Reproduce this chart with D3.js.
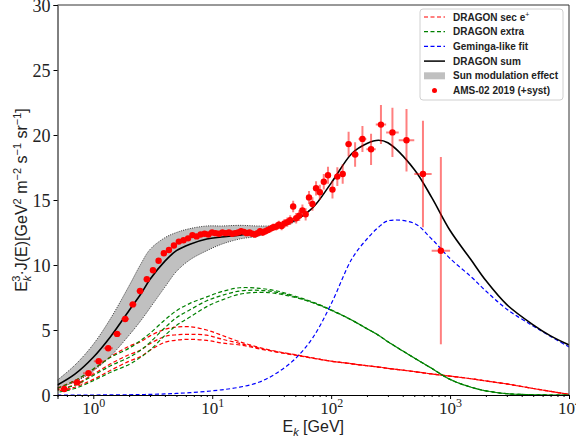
<!DOCTYPE html>
<html>
<head>
<meta charset="utf-8">
<script src="https://cdn.jsdelivr.net/npm/d3@7"></script>
<style>
  body { margin: 0; background: #fff; }
  #chart svg { display: block; }
</style>
</head>
<body>
<div id="chart"></div>
<script>
/* Positron flux E^3 J(E): DRAGON model curves vs AMS-02 2019 data. */

// energies [GeV] where the model curves are sampled
const energyGrid = [0.5, 0.7, 1, 1.4, 2, 2.5, 3, 4, 5, 6.5, 9, 12, 17, 25, 35, 50, 70, 100,
                    150, 200, 250, 300, 500, 700, 1000, 1500, 2000, 3000, 5000, 7000, 10000];

// DRAGON secondary e+ (three modulation potentials)
const secHigh = [0.55, 1.1, 1.95, 2.95, 3.75, 4.1, 4.55, 5.05, 5.22, 5.25, 5.0, 4.6, 4.1, 3.65, 3.35, 3.1,
                 2.85, 2.6, 2.4, 2.25, 2.15, 2.05, 1.8, 1.62, 1.45, 1.25, 1.08, 0.85, 0.5, 0.28, 0.05];
const secMid  = [0.4, 0.8, 1.6, 2.4, 3.1, 3.45, 3.95, 4.5, 4.63, 4.67, 4.6, 4.3, 3.97, 3.6, 3.32, 3.08,
                 2.84, 2.6, 2.4, 2.25, 2.15, 2.05, 1.8, 1.62, 1.45, 1.25, 1.08, 0.85, 0.5, 0.28, 0.05];
const secLow  = [0.3, 0.6, 1.2, 1.9, 2.6, 2.95, 3.45, 4.05, 4.22, 4.28, 4.2, 4.0, 3.85, 3.55, 3.3, 3.06,
                 2.83, 2.6, 2.4, 2.25, 2.15, 2.05, 1.8, 1.62, 1.45, 1.25, 1.08, 0.85, 0.5, 0.28, 0.05];

// DRAGON extra component
const extraHigh = [0.5, 1.1, 2.0, 2.9, 3.6, 4.2, 4.75, 5.78, 6.48, 7.05, 7.55, 7.95, 8.25, 8.2, 8.0, 7.6,
                   7.15, 6.55, 5.75, 5.1, 4.6, 4.1, 2.85, 2.05, 1.2, 0.6, 0.32, 0.1, 0.02, 0, 0];
const extraMid  = [0.38, 0.75, 1.5, 2.25, 2.9, 3.45, 4.05, 5.18, 5.95, 6.55, 7.25, 7.65, 8.0, 8.05, 7.9, 7.55,
                   7.12, 6.53, 5.75, 5.1, 4.6, 4.1, 2.85, 2.05, 1.2, 0.6, 0.32, 0.1, 0.02, 0, 0];
const extraLow  = [0.2, 0.5, 1.1, 1.75, 2.35, 2.9, 3.45, 4.58, 5.35, 6.0, 6.8, 7.3, 7.75, 7.9, 7.8, 7.5,
                   7.1, 6.52, 5.75, 5.1, 4.6, 4.1, 2.85, 2.05, 1.2, 0.6, 0.32, 0.1, 0.02, 0, 0];

// Geminga-like pulsar fit
const gemingaFit = [0, 0, 0, 0.01, 0.02, 0.03, 0.05, 0.08, 0.12, 0.18, 0.28, 0.4, 0.6, 1.0, 1.7, 2.8,
                    4.4, 7.0, 10.5, 12.0, 12.9, 13.4, 13.2, 12.0, 10.5, 9.1, 8.0, 6.6, 5.3, 4.5, 3.7];

// DRAGON sum
const dragonSum = [0.77, 1.6, 2.9, 4.5, 6.5, 7.75, 8.9, 10.3, 11.1, 11.6, 12.0, 12.15, 12.3, 12.55, 12.95, 13.45,
                   14.4, 16.3, 18.6, 19.35, 19.6, 19.4, 17.35, 15.2, 12.65, 10.4, 8.8, 6.95, 5.4, 4.55, 3.85];

// sun modulation band (first 17 grid energies, up to 70 GeV)
const sunUpper = [1.15, 2.3, 3.9, 5.9, 8.4, 10.05, 11.2, 12.1, 12.5, 12.8, 13.0, 13.0, 13.05, 13.0, 13.05, 13.45, 14.4];
const sunLower = [0.55, 1.0, 1.85, 3.0, 4.6, 5.7, 6.7, 8.3, 9.5, 10.4, 11.1, 11.6, 12.0, 12.25, 12.8, 13.35, 14.4];

// AMS-02 2019 positrons: bin edges [GeV], E^3 J values and errors
const amsBinEdges = [0.50, 0.65, 0.82, 1.01, 1.22, 1.46, 1.72, 2.00, 2.31, 2.65, 3.00, 3.36, 3.73, 4.12, 4.54,
                     5.00, 5.49, 6.00, 6.54, 7.10, 7.69, 8.30, 8.95, 9.62, 10.32, 11.04, 11.80, 12.59, 13.41,
                     14.25, 15.14, 16.05, 17.00, 17.98, 18.99, 20.04, 21.13, 22.25, 23.42, 24.62, 25.90, 27.25,
                     28.68, 30.21, 31.82, 33.53, 35.36, 37.31, 39.39, 41.61, 44.00, 46.57, 49.33, 52.33, 55.58,
                     59.13, 63.02, 67.30, 72.05, 77.37, 83.36, 90.19, 98.08, 107.3, 118.4, 132.1, 148.8, 169.9,
                     197.7, 237.2, 290.0, 370.0, 500.0, 700.0, 1000.0];
const amsValues = [0.46, 0.97, 1.67, 2.6, 3.6, 4.7, 5.85, 6.97, 8.0, 8.9,
                   9.6, 10.33, 10.9, 11.15, 11.5, 11.8, 11.9, 12.05, 12.3, 12.2,
                   12.35, 12.4, 12.35, 12.5, 12.45, 12.4, 12.5, 12.45, 12.5, 12.4,
                   12.45, 12.5, 12.6, 12.55, 12.45, 12.5, 12.4, 12.35, 12.45, 12.6,
                   12.5, 12.6, 12.7, 12.8, 12.9, 12.95, 13.1, 13.0, 13.2, 13.3,
                   13.45, 14.5, 13.6, 13.8, 14.2, 13.9, 15.2, 14.7, 15.9, 15.6,
                   16.4, 16.9, 15.8, 16.8, 17.0, 19.3, 18.5, 19.7, 18.9, 20.8,
                   20.2, 19.6, 17.0, 11.1];
const amsErrors = [0.03, 0.04, 0.05, 0.06, 0.07, 0.08, 0.09, 0.1, 0.1, 0.11,
                   0.12, 0.12, 0.13, 0.13, 0.13, 0.14, 0.14, 0.14, 0.15, 0.15,
                   0.15, 0.15, 0.16, 0.16, 0.16, 0.17, 0.17, 0.17, 0.18, 0.18,
                   0.19, 0.19, 0.2, 0.2, 0.21, 0.21, 0.22, 0.23, 0.23, 0.24,
                   0.25, 0.26, 0.27, 0.28, 0.29, 0.3, 0.31, 0.32, 0.33, 0.35,
                   0.37, 0.45, 0.4, 0.42, 0.45, 0.47, 0.5, 0.52, 0.55, 0.58,
                   0.6, 0.65, 0.68, 0.72, 0.75, 0.95, 0.95, 1.0, 1.2, 1.5,
                   1.9, 2.4, 4.1, 7.2];

const xTicks = [1, 10, 100, 1000, 10000];
const yTicks = [0, 5, 10, 15, 20, 25, 30];

const width = 576,
      height = 443,
      margin = ({top: 5, right: 7, bottom: 48, left: 57.5});

const serif = "'Liberation Serif', 'DejaVu Serif', serif";
const sans = "'Liberation Sans', 'DejaVu Sans', sans-serif";

let svg = d3.select("#chart")
            .append("svg")
            .attr("width", width)
            .attr("height", height)
            .attr("viewBox", [0, 0, width, height]);

const x = d3.scaleLog()
            .domain([0.5, 1e4])
            .range([margin.left, width - margin.right]);

const y = d3.scaleLinear()
            .domain([0, 30])
            .range([height - margin.bottom, margin.top]);

svg.append("clipPath").attr("id", "plot-clip")
   .append("rect")
   .attr("x", margin.left).attr("y", margin.top)
   .attr("width", width - margin.left - margin.right)
   .attr("height", height - margin.top - margin.bottom);

const plot = svg.append("g").attr("clip-path", "url(#plot-clip)");

const smooth = d3.curveCatmullRom.alpha(0.5);

// sun modulation band
const bandData = sunUpper.map((u, i) => ({e: energyGrid[i], hi: u, lo: sunLower[i]}));
plot.append("path")
    .datum(bandData)
    .attr("fill", "#c0c0c0")
    .attr("d", d3.area().curve(smooth)
                 .x(d => x(d.e)).y0(d => y(d.lo)).y1(d => y(d.hi)));

const line = d3.line().curve(smooth)
               .x(d => x(d[0])).y(d => y(d[1]));
const pairs = arr => arr.map((v, i) => [energyGrid[i], v]);

for (const edge of [sunUpper, sunLower]) {
    plot.append("path")
        .datum(pairs(edge))
        .attr("fill", "none")
        .attr("stroke", "#222")
        .attr("stroke-width", 0.9)
        .attr("stroke-dasharray", "1,1.3")
        .attr("d", line);
}

// dashed model components; offsets keep overlapping dashes from lining up
const dashed = [
    {vals: secHigh, color: "red", off: 0},
    {vals: secMid, color: "red", off: 2.2},
    {vals: secLow, color: "red", off: 4.4},
    {vals: extraHigh, color: "green", off: 0},
    {vals: extraMid, color: "green", off: 2.2},
    {vals: extraLow, color: "green", off: 4.4},
    {vals: gemingaFit, color: "blue", off: 0}
];
for (const c of dashed) {
    plot.append("path")
        .datum(pairs(c.vals))
        .attr("fill", "none")
        .attr("stroke", c.color)
        .attr("stroke-width", 1.2)
        .attr("stroke-dasharray", "4,2.5")
        .attr("stroke-dashoffset", c.off)
        .attr("d", line);
}

plot.append("path")
    .datum(pairs(dragonSum))
    .attr("fill", "none")
    .attr("stroke", "black")
    .attr("stroke-width", 1.6)
    .attr("d", line);

// AMS-02 points with error bars
const ams = amsValues.map((v, i) => ({
    lo: amsBinEdges[i], hi: amsBinEdges[i + 1],
    e: Math.sqrt(amsBinEdges[i] * amsBinEdges[i + 1]),
    v: v, err: amsErrors[i]
}));

let pt = plot.selectAll(".ams")
    .data(ams)
    .join("g")
    .attr("class", "ams");

pt.append("line")
    .attr("x1", d => x(d.lo)).attr("x2", d => x(d.hi))
    .attr("y1", d => y(d.v)).attr("y2", d => y(d.v))
    .attr("stroke", "rgba(255,0,0,0.5)")
    .attr("stroke-width", 2);

pt.append("line")
    .attr("x1", d => x(d.e)).attr("x2", d => x(d.e))
    .attr("y1", d => y(d.v - d.err)).attr("y2", d => y(d.v + d.err))
    .attr("stroke", "rgba(255,0,0,0.5)")
    .attr("stroke-width", 2);

pt.append("circle")
    .attr("cx", d => x(d.e))
    .attr("cy", d => y(d.v))
    .attr("r", 3.2)
    .attr("fill", "red");

// axes
const minorTicks = [];
for (let p = -1; p < 4; p++) {
    for (let m = 2; m < 10; m++) {
        const t = m * Math.pow(10, p);
        if (t >= 0.5 && t <= 1e4) minorTicks.push(t);
    }
}

svg.append("g")
   .attr("transform", `translate(0,${height - margin.bottom})`)
   .call(d3.axisBottom(x).tickValues(minorTicks).tickSize(2).tickFormat(""))
   .call(g => g.select(".domain").remove());

const xAxis = svg.append("g")
   .attr("class", "x-ax")
   .attr("transform", `translate(0,${height - margin.bottom})`)
   .call(d3.axisBottom(x).tickValues(xTicks).tickSize(4).tickPadding(3).tickFormat(""));

xAxis.selectAll(".tick text")
     .attr("font-family", serif)
     .attr("font-size", 17)
     .attr("fill", "#222")
     .each(function(d) {
         const t = d3.select(this);
         t.append("tspan").text("10");
         t.append("tspan").attr("dy", -7).attr("font-size", 12).text(Math.round(Math.log10(d)));
     });

const yAxis = svg.append("g")
   .attr("transform", `translate(${margin.left},0)`)
   .call(d3.axisLeft(y).tickValues(yTicks).tickSize(4).tickPadding(3));

yAxis.selectAll(".tick text")
     .attr("font-family", serif)
     .attr("font-size", 18)
     .attr("fill", "#222")
     .attr("dy", "0.35em");

svg.selectAll(".domain").attr("stroke", "black").attr("stroke-width", 1);

// frame top and right
svg.append("path")
   .attr("d", `M${margin.left},${margin.top}H${width - margin.right}V${height - margin.bottom}`)
   .attr("fill", "none")
   .attr("stroke", "#333")
   .attr("stroke-width", 1);

// axis labels
let xl = svg.append("text")
    .attr("x", (margin.left + width - margin.right) / 2)
    .attr("y", 432)
    .attr("text-anchor", "middle")
    .attr("font-family", sans)
    .attr("font-size", 16)
    .attr("fill", "#222");
xl.append("tspan").text("E");
xl.append("tspan").attr("dy", 4).attr("font-size", 11).attr("font-style", "italic").text("k");
xl.append("tspan").attr("dy", -4).text(" [GeV]");

let yl = svg.append("text")
    .attr("transform", `translate(27,${(margin.top + height - margin.bottom) / 2}) rotate(-90)`)
    .attr("text-anchor", "middle")
    .attr("font-family", sans)
    .attr("font-size", 16)
    .attr("fill", "#222");
yl.append("tspan").text("E");
yl.append("tspan").attr("dy", 4).attr("font-size", 11).attr("font-style", "italic").text("k");
yl.append("tspan").attr("dx", -6).attr("dy", -11).attr("font-size", 11).text("3");
yl.append("tspan").attr("dy", 7).text("·J(E)[GeV");
yl.append("tspan").attr("dy", -6).attr("font-size", 11).text("2");
yl.append("tspan").attr("dy", 6).text(" m");
yl.append("tspan").attr("dy", -6).attr("font-size", 11).text("−2");
yl.append("tspan").attr("dy", 6).text(" s");
yl.append("tspan").attr("dy", -6).attr("font-size", 11).text("−1");
yl.append("tspan").attr("dy", 6).text(" sr");
yl.append("tspan").attr("dy", -6).attr("font-size", 11).text("−1");
yl.append("tspan").attr("dy", 6).text("]");

// legend
const legendItems = [
    {label: "DRAGON sec e", sup: "+", kind: "dash", color: "red"},
    {label: "DRAGON extra", kind: "dash", color: "green"},
    {label: "Geminga-like fit", kind: "dash", color: "blue"},
    {label: "DRAGON sum", kind: "line", color: "black"},
    {label: "Sun modulation effect", kind: "patch", color: "#c0c0c0"},
    {label: "AMS-02 2019 (+syst)", kind: "dot", color: "red"}
];

const lg = svg.append("g").attr("transform", "translate(420,9)");
lg.append("rect")
  .attr("width", 143).attr("height", 91)
  .attr("rx", 3)
  .attr("fill", "white").attr("fill-opacity", 0.85)
  .attr("stroke", "#d0d0d0");

let item = lg.selectAll(".leg")
    .data(legendItems)
    .join("g")
    .attr("class", "leg")
    .attr("transform", (d, i) => `translate(0,${8 + i * 14.7})`);

item.filter(d => d.kind === "dash" || d.kind === "line")
    .append("line")
    .attr("x1", 4).attr("x2", 25).attr("y1", 0).attr("y2", 0)
    .attr("stroke", d => d.color)
    .attr("stroke-width", d => d.kind === "line" ? 1.5 : 1.2)
    .attr("stroke-dasharray", d => d.kind === "dash" ? "4,2.5" : null);

item.filter(d => d.kind === "patch")
    .append("rect")
    .attr("x", 4).attr("y", -3.5).attr("width", 21).attr("height", 7)
    .attr("fill", d => d.color);

item.filter(d => d.kind === "dot")
    .append("circle")
    .attr("cx", 14.5).attr("cy", 0).attr("r", 2.5)
    .attr("fill", d => d.color);

let lt = item.append("text")
    .attr("x", 33).attr("y", 0).attr("dy", "0.35em")
    .attr("font-family", sans)
    .attr("font-weight", "bold")
    .attr("font-size", 10)
    .attr("fill", "#222")
    .text(d => d.label);
lt.filter(d => d.sup)
  .append("tspan").attr("dy", -4).attr("font-size", 7).attr("font-weight", "normal").text(d => d.sup);
</script>
</body>
</html>
